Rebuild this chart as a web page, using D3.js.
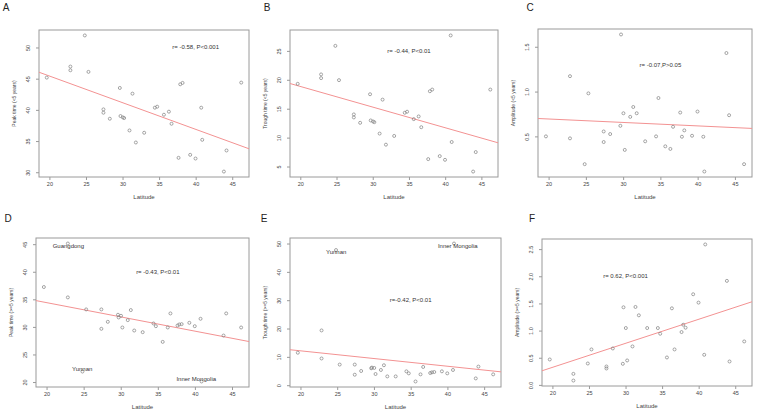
<!DOCTYPE html>
<html><head><meta charset="utf-8">
<script src="https://cdn.jsdelivr.net/npm/d3@7/dist/d3.min.js"></script>
<style>body{margin:0;background:#fff}svg{display:block}text{font-family:"Liberation Sans",Arial,sans-serif}</style>
</head><body>
<svg id="c" width="757" height="413"></svg>
<script>
// ---------- data ----------
const latitude = [19.64, 22.87, 22.87, 24.84, 25.34, 27.39, 27.39, 28.26, 29.63, 29.72, 30.04, 30.22, 30.95, 31.36, 31.82, 32.96, 34.42, 34.74, 35.66, 36.34, 36.70, 37.66, 37.89, 38.21, 39.25, 39.98, 40.76, 40.90, 43.86, 44.22, 46.23];
const peakUnder5   = [45.17, 46.94, 46.35, 51.93, 46.09, 40.08, 39.54, 38.58, 43.51, 39.01, 38.79, 38.69, 36.70, 42.60, 34.77, 36.33, 40.35, 40.51, 39.22, 39.71, 37.77, 32.31, 44.10, 44.32, 32.79, 32.20, 40.35, 35.20, 30.11, 33.49, 44.37];
const troughUnder5 = [19.30, 20.93, 20.29, 25.87, 19.94, 14.01, 13.49, 12.56, 17.50, 12.97, 12.79, 12.67, 10.70, 16.57, 8.78, 10.29, 14.30, 14.48, 13.20, 13.66, 11.80, 6.28, 18.02, 18.31, 6.80, 6.16, 27.67, 9.24, 4.13, 7.50, 18.31];
const ampUnder5    = [0.500, 1.172, 0.478, 0.190, 0.980, 0.555, 0.437, 0.526, 0.618, 1.637, 0.758, 0.349, 0.718, 0.828, 0.758, 0.445, 0.500, 0.928, 0.389, 0.360, 0.607, 0.766, 0.496, 0.567, 0.507, 0.777, 0.496, 0.108, 1.430, 0.736, 0.190];
const peakOver5    = [37.23, 45.12, 35.35, 21.90, 33.17, 33.17, 29.65, 30.92, 32.20, 31.71, 32.01, 29.89, 31.23, 33.05, 29.34, 29.04, 30.62, 30.13, 27.28, 29.89, 32.44, 30.25, 30.44, 30.50, 30.74, 30.13, 31.47, 20.10, 28.43, 32.44, 29.89];
const troughOver5  = [11.46, 19.33, 9.43, 47.70, 7.28, 7.28, 3.70, 5.01, 5.97, 6.21, 6.09, 3.94, 5.37, 7.04, 3.10, 3.10, 4.89, 4.18, 1.31, 3.82, 6.44, 4.30, 4.53, 4.65, 4.89, 4.18, 5.37, 50.00, 2.39, 6.56, 3.82];
const ampOver5     = [0.468, 0.203, 0.080, 0.394, 0.653, 0.339, 0.302, 0.671, 0.388, 1.429, 1.047, 0.450, 0.708, 1.435, 1.281, 1.047, 1.047, 0.942, 0.505, 1.410, 0.653, 0.973, 1.108, 1.053, 1.669, 1.515, 0.554, 2.586, 1.915, 0.431, 0.800];

const panelLetters = ["A", "B", "C", "D", "E", "F"];
const yTitles = ["Peak time (<5 years)", "Trough time (<5 years)", "Amplitude (<5 years)",
                 "Peak time (>=5 years)", "Trough time (>=5 years)", "Amplitude (>=5 years)"];
const xTitle = "Latitude";
const xTicks = [20, 25, 30, 35, 40, 45];
const yTicksA = [30, 35, 40, 45, 50];
const yTicksB = [5, 10, 15, 20, 25];
const yTicksC = [0.5, 1.0, 1.5];
const yTicksD = [20, 25, 30, 35, 40, 45];
const yTicksE = [0, 10, 20, 30, 40, 50];
const yTicksF = [0.0, 0.5, 1.0, 1.5, 2.0, 2.5];
// regression fits [intercept, slope]
const fitA = [53.97, -0.4273], fitB = [25.99, -0.357], fitC = [0.771, -0.00385];
const fitD = [39.57, -0.2585], fitE = [17.57, -0.272], fitF = [-0.5625, 0.04426];
const statTexts = ["r= -0.58, P<0.001", "r= -0.44, P<0.01", "r= -0.07,P>0.05",
                   "r= -0.43, P<0.01", "r=-0.42, P<0.01", "r= 0.62, P<0.001"];
const statAt = [[40, 50], [35, 25], [35, 1.3], [35, 40], [35, 30], [30, 2.0]];
const labelsD = [["Guangdong", 22.94, 44.6], ["Yunnan", 24.8, 22.3], ["Inner Mongolia", 40.18, 20.6]];
const labelsE = [["Yunnan", 24.86, 47.0], ["Inner Mongolia", 41.41, 49.05]];

// ---------- layout ----------
const boxes = [
  {x0: 39, x1: 249, y0: 30, y1: 177, lx: 6, ly: 11},
  {x0: 290, x1: 498, y0: 30, y1: 177, lx: 267, ly: 11},
  {x0: 538, x1: 752, y0: 29, y1: 177, lx: 530, ly: 11},
  {x0: 36, x1: 249, y0: 238, y1: 387, lx: 8, ly: 222},
  {x0: 290, x1: 501, y0: 238, y1: 387, lx: 264, ly: 222},
  {x0: 542, x1: 752, y0: 239, y1: 386, lx: 532, ly: 222}
];
const series = [peakUnder5, troughUnder5, ampUnder5, peakOver5, troughOver5, ampOver5];
const yTicks = [yTicksA, yTicksB, yTicksC, yTicksD, yTicksE, yTicksF];
const fits = [fitA, fitB, fitC, fitD, fitE, fitF];
const labels = [[], [], [], labelsD, labelsE, []];

const svg = d3.select("#c");
const boxCol = "#9a9a9a", txtCol = "#444", ptCol = "#808080", lineCol = "#f39292";

function pad(ext) { const r = ext[1] - ext[0]; return [ext[0] - 0.04 * r, ext[1] + 0.04 * r]; }

boxes.forEach((b, i) => {
  const vals = series[i];
  const x = d3.scaleLinear().domain(pad(d3.extent(latitude))).range([b.x0, b.x1]);
  const y = d3.scaleLinear().domain(pad(d3.extent(vals))).range([b.y1, b.y0]);
  const g = svg.append("g");
  const fmt = i === 2 || i === 5 ? d3.format(".1f") : d3.format("d");

  // x axis
  const xa = g.append("g").attr("transform", `translate(0,${b.y1})`)
    .call(d3.axisBottom(x).tickValues(xTicks).tickSize(3).tickPadding(2).tickFormat(d3.format("d")));
  xa.select(".domain").remove();
  xa.selectAll("line").attr("stroke", boxCol);
  xa.selectAll("text").attr("fill", txtCol).style("font-size", "5.5px").attr("font-family", null);

  // y axis
  const ya = g.append("g").attr("transform", `translate(${b.x0},0)`)
    .call(d3.axisLeft(y).tickValues(yTicks[i]).tickSize(3).tickFormat(fmt));
  ya.select(".domain").remove();
  ya.selectAll("line").attr("stroke", boxCol);
  ya.selectAll("text").attr("fill", txtCol).style("font-size", "5.5px").attr("font-family", null)
    .attr("x", 0).attr("dy", null).attr("dominant-baseline", "central")
    .attr("text-anchor", "middle").attr("transform", "translate(-11,0) rotate(-90)");

  // box
  g.append("rect").attr("x", b.x0).attr("y", b.y0).attr("width", b.x1 - b.x0).attr("height", b.y1 - b.y0)
    .attr("fill", "none").attr("stroke", boxCol).attr("stroke-width", 1);

  // clip
  const cid = "clip" + i;
  svg.append("clipPath").attr("id", cid).append("rect")
    .attr("x", b.x0).attr("y", b.y0).attr("width", b.x1 - b.x0).attr("height", b.y1 - b.y0);

  // regression line
  const xd = x.domain();
  g.append("line").attr("clip-path", `url(#${cid})`)
    .attr("x1", x(xd[0])).attr("y1", y(fits[i][0] + fits[i][1] * xd[0]))
    .attr("x2", x(xd[1])).attr("y2", y(fits[i][0] + fits[i][1] * xd[1]))
    .attr("stroke", lineCol).attr("stroke-width", 1);

  // points
  g.selectAll("circle.pt").data(latitude.map((l, k) => [l, vals[k]])).enter().append("circle")
    .attr("class", "pt").attr("cx", d => x(d[0])).attr("cy", d => y(d[1])).attr("r", 1.5)
    .attr("fill", "none").attr("stroke", ptCol).attr("stroke-width", 0.7);

  // labels
  labels[i].forEach(l => {
    g.append("text").attr("x", x(l[1])).attr("y", y(l[2])).attr("text-anchor", "middle")
      .attr("dominant-baseline", "central").attr("fill", "#333").style("font-size", "6px").text(l[0]);
  });

  // stats
  g.append("text").attr("x", x(statAt[i][0])).attr("y", y(statAt[i][1])).attr("text-anchor", "middle")
    .attr("dominant-baseline", "central").attr("fill", "#333").style("font-size", "6px").text(statTexts[i]);

  // titles
  g.append("text").attr("x", (b.x0 + b.x1) / 2).attr("y", b.y1 + 20).attr("text-anchor", "middle")
    .attr("dominant-baseline", "central").attr("fill", txtCol).style("font-size", "6px").text(xTitle);
  g.append("text").attr("transform", `translate(${b.x0 - 25},${(b.y0 + b.y1) / 2}) rotate(-90)`)
    .attr("text-anchor", "middle").attr("dominant-baseline", "central").attr("fill", txtCol)
    .style("font-size", "5px").text(yTitles[i]);

  // panel letter
  g.append("text").attr("x", b.lx).attr("y", b.ly).attr("text-anchor", "middle")
    .attr("fill", "#222").style("font-size", "10px").text(panelLetters[i]);
});
</script>
</body></html>
